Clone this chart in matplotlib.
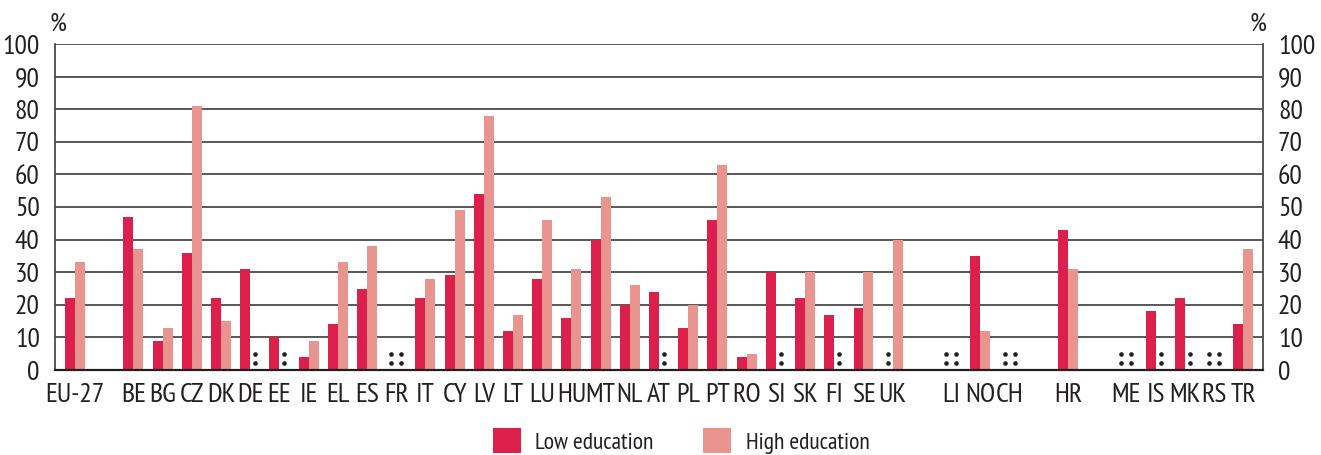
import matplotlib
matplotlib.use("Agg")
import matplotlib.pyplot as plt
import matplotlib.font_manager as fm
from matplotlib.patches import Patch
import numpy as np

available = set(f.name for f in fm.fontManager.ttflist)
prefs = ['PT Sans Narrow', 'Roboto Condensed', 'Open Sans Condensed', 'Fira Sans Condensed',
         'Asap Condensed', 'Archivo Narrow', 'Liberation Sans']
chosen = [p for p in prefs if p in available]
plt.rcParams['font.family'] = chosen[:1] + ['DejaVu Sans']

# Categories (None = spacer slot)
categories = ["EU-27", None, "BE", "BG", "CZ", "DK", "DE", "EE", "IE", "EL", "ES", "FR",
              "IT", "CY", "LV", "LT", "LU", "HU", "MT", "NL", "AT", "PL", "PT", "RO",
              "SI", "SK", "FI", "SE", "UK", None, "LI", "NO", "CH", None, "HR", None,
              "ME", "IS", "MK", "RS", "TR"]
# Values (None = not available ':')
low_education = [22, None, 47, 9, 36, 22, 31, 10, 4, 14, 25, None,
                 22, 29, 54, 12, 28, 16, 40, 20, 24, 13, 46, 4,
                 30, 22, 17, 19, None, None, None, 35, None, None, 43, None,
                 None, 18, 22, None, 14]
high_education = [33, None, 37, 13, 81, 15, None, None, 9, 33, 38, None,
                  28, 49, 78, 17, 46, 31, 53, 26, None, 20, 63, 5,
                  None, 30, None, 30, 40, None, None, 12, None, None, 31, None,
                  None, None, None, None, 37]

low_color = "#DC1F4B"
high_color = "#E9948F"
text_color = "#231f20"

fig = plt.figure(figsize=(13.21, 4.55), dpi=100)
ax = fig.add_axes([55/1321, 1 - 370/455, (1262.7 - 55)/1321, (370 - 44)/455])

x = np.arange(len(categories))
w = 0.342

for i, cat in enumerate(categories):
    if cat is None:
        continue
    lv, hv = low_education[i], high_education[i]
    if lv is not None:
        ax.bar(x[i] - w/2, lv, width=w, color=low_color, zorder=3)
    else:
        ax.scatter([x[i] - w/2]*2, [2.2, 5.0], s=11, color="#222222", zorder=4, linewidths=0)
    if hv is not None:
        ax.bar(x[i] + w/2, hv, width=w, color=high_color, zorder=3)
    else:
        ax.scatter([x[i] + w/2]*2, [2.2, 5.0], s=11, color="#222222", zorder=4, linewidths=0)

ax.set_xlim(-0.685, 40.67)
ax.set_ylim(0, 100)
ax.set_yticks(np.arange(0, 101, 10))
for yv in range(10, 101, 10):
    ax.axhline(yv, color="#4a4a4a", lw=1.3, zorder=1)

ticks = [i for i, c in enumerate(categories) if c is not None]
ax.set_xticks(ticks)
ax.set_xticklabels([categories[i] for i in ticks], fontsize=20, color=text_color)
ax.tick_params(axis='x', length=0, pad=9)
ax.tick_params(axis='y', length=0, pad=11, labelsize=20, labelcolor=text_color,
               left=True, right=True, labelleft=True, labelright=True)

for side in ["left", "right"]:
    ax.spines[side].set_color("#4a4a4a")
    ax.spines[side].set_linewidth(1.3)
ax.spines["top"].set_visible(False)
ax.spines["bottom"].set_color(text_color)
ax.spines["bottom"].set_linewidth(1.6)
ax.spines["bottom"].set_zorder(5)

fig.text(58/1321, 1 - 24/455, "%", fontsize=19, color=text_color, ha="center", va="center")
fig.text(1258/1321, 1 - 24/455, "%", fontsize=19, color=text_color, ha="center", va="center")

handles = [Patch(facecolor=low_color, label="Low education"),
           Patch(facecolor=high_color, label="High education")]
fig.legend(handles=handles, loc="center", bbox_to_anchor=(681/1321, 1 - 441/455), ncol=2,
           frameon=False, fontsize=17, handlelength=1.2, handleheight=1.2,
           handletextpad=0.6, columnspacing=2.1, borderpad=0, labelcolor=text_color)

fig.savefig("out.png", dpi=100)
